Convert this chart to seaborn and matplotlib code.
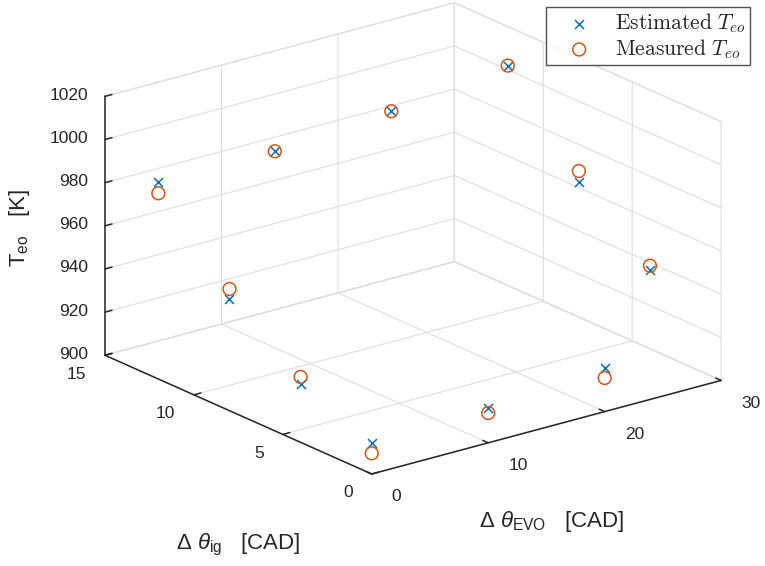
import numpy as np
import matplotlib
matplotlib.use("Agg")
import matplotlib.pyplot as plt
import matplotlib.transforms as mtransforms
import seaborn as sns
from mpl_toolkits.mplot3d import proj3d
from matplotlib.font_manager import FontProperties

# Operating points: exhaust-valve-opening and ignition offsets [CAD]
evo_offset = [0, 10, 20, 0, 0, 0, 10, 20, 30, 30, 30]
ig_offset = [0, 0, 0, 4, 8, 12, 12, 12, 12, 8, 4]

# Exhaust temperature at EVO [K]
teo_estimated = [914.2, 916.3, 920.2, 927.2, 951.8, 991.3, 991.4, 995.3, 1001.9, 962.6, 936.6]
teo_measured = [909.6, 913.8, 915.6, 930.3, 956.4, 986.1, 991.1, 995.2, 1001.9, 967.7, 938.5]

x_ticks = [0, 10, 20, 30]
y_ticks = [0, 5, 10, 15]
z_ticks = [900, 920, 940, 960, 980, 1000, 1020]

series_labels = [r"$\mathrm{Estimated}\ T_{eo}$", r"$\mathrm{Measured}\ T_{eo}$"]
x_label = r"$\Delta\ \theta_{\mathrm{EVO}}$   [CAD]"
y_label = r"$\Delta\ \theta_{\mathrm{ig}}$   [CAD]"
z_label = r"T$_{\mathrm{eo}}$   [K]"

sns.set_theme(style="white")
plt.rcParams["font.family"] = ["Liberation Sans", "DejaVu Sans"]
plt.rcParams["mathtext.fontset"] = "custom"
plt.rcParams["mathtext.rm"] = "Liberation Sans"
plt.rcParams["mathtext.it"] = "Liberation Sans:italic"
plt.rcParams["mathtext.bf"] = "Liberation Sans:bold"
plt.rcParams["grid.color"] = "#dedede"
plt.rcParams["grid.linewidth"] = 0.8
plt.rcParams["xtick.color"] = "#262626"
plt.rcParams["ytick.color"] = "#262626"

blue, orange = "#0072BD", "#D95319"
ink = "#262626"

W, H = 765, 566
fig = plt.figure(figsize=(W / 100, H / 100), dpi=100)
fig.patch.set_facecolor("white")
ax = fig.add_axes([0.1, 0.1, 0.8 * H / W, 0.8], projection="3d",
                  proj_type="ortho", computed_zorder=False)
ax.view_init(elev=20.2, azim=-127.8)
ax.set_box_aspect((444, 437, 277))

ax.set_xlim(0, 30)
ax.set_ylim(0, 15)
ax.set_zlim(900, 1020)

h_est = ax.scatter(evo_offset, ig_offset, teo_estimated, marker="x", s=42,
                   color=blue, linewidths=1.1, depthshade=False,
                   label=series_labels[0])
h_meas = ax.scatter(evo_offset, ig_offset, teo_measured, marker="o", s=85,
                    facecolors="none", edgecolors=orange, linewidths=1.1,
                    depthshade=False, label=series_labels[1])

# Tick marks come from the axes; their labels are placed separately below
ax.set_xticks(x_ticks)
ax.set_yticks(y_ticks)
ax.set_zticks(z_ticks)
ax.set_xticklabels([])
ax.set_yticklabels([])
ax.set_zticklabels([])

for axis in (ax.xaxis, ax.yaxis, ax.zaxis):
    axis.set_pane_color((1, 1, 1, 1))
    axis.pane.set_edgecolor("#dedede")
    axis.pane.set_linewidth(0.8)
    axis.line.set_color(ink)
    axis.line.set_linewidth(1.1)
    axis._axinfo["tick"]["inward_factor"] = 0.0
    axis._axinfo["tick"]["outward_factor"] = 0.25
    axis._axinfo["tick"]["linewidth"] = {True: 1.1, False: 0.5}
    axis._axinfo["grid"]["color"] = "#dedede"
    axis._axinfo["grid"]["linewidth"] = 0.8
ax.grid(True)

# Fit the projected box into the frame region of the canvas
fig.canvas.draw()
xl, yl, zl = ax.get_xlim3d(), ax.get_ylim3d(), ax.get_zlim3d()
corners = np.array([[a, b, c] for a in xl for b in yl for c in zl])


def project(xs, ys, zs):
    px, py, _ = proj3d.proj_transform(np.asarray(xs, float), np.asarray(ys, float),
                                      np.asarray(zs, float), ax.get_proj())
    return px, py


def box_extent():
    px, py = project(corners[:, 0], corners[:, 1], corners[:, 2])
    pts = ax.transData.transform(np.column_stack([px, py]))
    return pts[:, 0].min(), pts[:, 0].max(), pts[:, 1].min(), pts[:, 1].max()


left_px, right_px, top_px, bottom_px = 105, 724, H - 5, H - 474
for _ in range(2):
    x0, x1, y0, y1 = box_extent()
    pos = ax.get_position()
    px0, py0, pw = pos.x0 * W, pos.y0 * H, pos.width * W
    sx = (right_px - left_px) / (x1 - x0)
    sy = (top_px - bottom_px) / (y1 - y0)
    s = 0.5 * (sx + sy)
    new_w = pw * s
    new_x0 = left_px - (x0 - px0) * s
    new_y0 = bottom_px - (y0 - py0) * s
    ax.set_position([new_x0 / W, new_y0 / H, new_w / W, new_w / H])
    fig.canvas.draw()


def offset(dx_px, dy_px):
    return ax.transData + mtransforms.ScaledTranslation(
        dx_px / 100, -dy_px / 100, fig.dpi_scale_trans)


def tick_labels(values, xs, ys, zs, ha, dx, dy):
    px, py = project(xs, ys, zs)
    for v, u, w in zip(values, px, py):
        ax.text2D(u, w, str(v), ha=ha, va="center", fontsize=12.5,
                  color=ink, transform=offset(dx, dy))


n = len(x_ticks)
tick_labels(x_ticks, x_ticks, [yl[0]] * n, [zl[0]] * n, "left", 20, 23)
n = len(y_ticks)
tick_labels(y_ticks, [xl[0]] * n, y_ticks, [zl[0]] * n, "right", -19, 19)
n = len(z_ticks)
tick_labels(z_ticks, [xl[0]] * n, [yl[1]] * n, z_ticks, "right", -17, -1)

fig.text(551 / W, 1 - 522 / H, x_label, ha="center", va="center",
         fontsize=16, color=ink)
fig.text(238 / W, 1 - 545 / H, y_label, ha="center", va="center",
         fontsize=16, color=ink)
fig.text(20 / W, 1 - 228 / H, z_label, ha="center", va="center",
         rotation=90, fontsize=16, color=ink)

leg = fig.legend(handles=[h_est, h_meas], loc="upper right",
                 bbox_to_anchor=(750 / W, 1 - 7 / H), bbox_transform=fig.transFigure,
                 borderaxespad=0, frameon=True, fancybox=False,
                 prop=FontProperties(size=15.5, math_fontfamily="cm"),
                 handletextpad=0.3, borderpad=0.2, labelspacing=0.1,
                 handlelength=2.7)
leg.get_frame().set_edgecolor(ink)
leg.get_frame().set_linewidth(1.0)

fig.savefig("out.png", dpi=100, facecolor="white")
